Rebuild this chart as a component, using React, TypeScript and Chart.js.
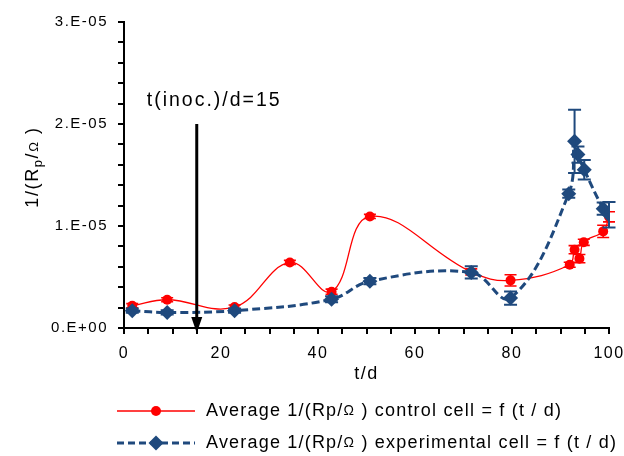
import React, { useEffect, useRef } from 'react';
import { Chart, registerables } from 'chart.js';

Chart.register(...registerables);

const FONT = '"Liberation Sans", Arial, sans-serif';
const RED = '#FF0000';
const BLUE = '#1F497D';

// control cell
const controlDays = [1.7, 8.9, 22.8, 34.2, 42.8, 50.7, 71.6, 79.7, 91.9, 92.9, 93.9, 94.8, 98.8, 100];
const controlValues = [2.19e-6, 2.77e-6, 2.06e-6, 6.43e-6, 3.56e-6, 10.94e-6, 5.5e-6, 4.67e-6, 6.2e-6, 7.68e-6, 6.8e-6, 8.4e-6, 9.47e-6, 10.9e-6];
const controlErrors = [0.2e-6, 0.2e-6, 0.2e-6, 0.2e-6, 0.25e-6, 0.2e-6, 0.3e-6, 0.55e-6, 0.25e-6, 0.4e-6, 0.4e-6, 0.3e-6, 0.6e-6, 0.5e-6];

// experimental cell
const expDays = [1.7, 8.9, 22.8, 42.8, 50.7, 71.6, 79.7, 91.7, 92.9, 93.6, 94.9, 98.8, 100];
const expValues = [1.7e-6, 1.53e-6, 1.7e-6, 2.82e-6, 4.59e-6, 5.45e-6, 2.94e-6, 13.17e-6, 18.3e-6, 17.0e-6, 15.52e-6, 11.7e-6, 11.1e-6];
const expErrors = [0.2e-6, 0.2e-6, 0.2e-6, 0.3e-6, 0.3e-6, 0.6e-6, 0.65e-6, 0.4e-6, 3.1e-6, 0.8e-6, 0.95e-6, 0.6e-6, 1.25e-6];

const xLabelledTicks = [0, 20, 40, 60, 80, 100];
const yTickLabels = ['0.E+00', '1.E-05', '2.E-05', '3.E-05'];
const yLabelStep = 1e-5;

const inoculationDay = 15;
const arrowTopValue = 2e-5;
const annotationText = 't(inoc.)/d=15';
const xTitle = 't/d';

const legendControl = ['Average 1/(Rp/', 'Ω', ' ) control cell = f (t / d)'];
const legendExp = ['Average 1/(Rp/', 'Ω', ' ) experimental cell = f (t / d)'];

const errorsByDataset = [expErrors, controlErrors];
const errColors = [BLUE, RED];

function drawDiamond(ctx: CanvasRenderingContext2D, x: number, y: number, r: number) {
  ctx.beginPath();
  ctx.moveTo(x, y - r);
  ctx.lineTo(x + r, y);
  ctx.lineTo(x, y + r);
  ctx.lineTo(x - r, y);
  ctx.closePath();
  ctx.fill();
}

function drawSegs(ctx: CanvasRenderingContext2D, segs: { t: string; size: number; dy: number }[], x: number, y: number, ls: string) {
  let cx = x;
  for (const s of segs) {
    ctx.font = `${s.size}px ${FONT}`;
    (ctx as any).letterSpacing = ls;
    ctx.fillText(s.t, cx, y + s.dy);
    cx += ctx.measureText(s.t).width;
  }
  return cx - x;
}

function measureSegs(ctx: CanvasRenderingContext2D, segs: { t: string; size: number; dy: number }[], ls: string) {
  let w = 0;
  for (const s of segs) {
    ctx.font = `${s.size}px ${FONT}`;
    (ctx as any).letterSpacing = ls;
    w += ctx.measureText(s.t).width;
  }
  return w;
}

const overlayPlugin = {
  id: 'overlay',
  beforeUpdate(chart: any) {
    chart.ctx.letterSpacing = '1.5px';
  },
  beforeDraw(chart: any) {
    chart.ctx.letterSpacing = '1.5px';
  },
  afterDatasetDraw(chart: any, args: any) {
    const ctx = chart.ctx as CanvasRenderingContext2D;
    const errs = errorsByDataset[args.index];
    const ds = chart.data.datasets[args.index];
    const xs = chart.scales.x;
    const ys = chart.scales.y;
    ctx.save();
    ctx.strokeStyle = errColors[args.index];
    ctx.lineWidth = args.index === 0 ? 2 : 1.6;
    const cap = args.index === 0 ? 6.5 : 6;
    ds.data.forEach((p: any, i: number) => {
      const x = xs.getPixelForValue(p.x);
      const y1 = ys.getPixelForValue(p.y + errs[i]);
      const y2 = ys.getPixelForValue(p.y - errs[i]);
      ctx.beginPath();
      ctx.moveTo(x, y1);
      ctx.lineTo(x, y2);
      ctx.moveTo(x - cap, y1);
      ctx.lineTo(x + cap, y1);
      ctx.moveTo(x - cap, y2);
      ctx.lineTo(x + cap, y2);
      ctx.stroke();
    });
    ctx.restore();
  },
  afterDraw(chart: any) {
    const ctx = chart.ctx as CanvasRenderingContext2D;
    const xs = chart.scales.x;
    const ys = chart.scales.y;
    const area = chart.chartArea;
    ctx.save();
    ctx.fillStyle = '#000';
    ctx.strokeStyle = '#000';

    // arrow
    const ax = xs.getPixelForValue(inoculationDay);
    const aTop = ys.getPixelForValue(arrowTopValue);
    const aBot = ys.getPixelForValue(0);
    ctx.lineWidth = 3;
    ctx.beginPath();
    ctx.moveTo(ax, aTop);
    ctx.lineTo(ax, aBot - 9);
    ctx.stroke();
    ctx.beginPath();
    ctx.moveTo(ax - 5.5, aBot - 11);
    ctx.lineTo(ax + 5.5, aBot - 11);
    ctx.lineTo(ax, aBot + 5);
    ctx.closePath();
    ctx.fill();

    // annotation
    ctx.font = `19.5px ${FONT}`;
    (ctx as any).letterSpacing = '2px';
    ctx.textAlign = 'left';
    ctx.textBaseline = 'alphabetic';
    ctx.fillText(annotationText, ax - 50, aTop - 18);

    // x title
    ctx.font = `18px ${FONT}`;
    (ctx as any).letterSpacing = '1.5px';
    ctx.textAlign = 'center';
    ctx.textBaseline = 'middle';
    ctx.fillText(xTitle, (area.left + area.right) / 2, 374.5);

    // y title (rotated, subscript p)
    ctx.textAlign = 'left';
    ctx.textBaseline = 'alphabetic';
    const ySegs = [
      { t: '1/(R', size: 18, dy: 0 },
      { t: 'p', size: 13, dy: 4 },
      { t: '/', size: 18, dy: 0 },
      { t: 'Ω', size: 13, dy: 0 },
      { t: ' )', size: 18, dy: 0 },
    ];
    const tw = measureSegs(ctx, ySegs, '1.6px');
    ctx.save();
    ctx.translate(38, 167);
    ctx.rotate(-Math.PI / 2);
    drawSegs(ctx, ySegs, -tw / 2, 0, '1.6px');
    ctx.restore();

    // legend
    const rows = [
      { y: 411, color: RED, dash: [] as number[], width: 1.5, segs: legendControl, marker: 'circle' },
      { y: 443, color: BLUE, dash: [7, 4], width: 3, segs: legendExp, marker: 'diamond' },
    ];
    ctx.textBaseline = 'middle';
    for (const r of rows) {
      ctx.strokeStyle = r.color;
      ctx.fillStyle = r.color;
      ctx.lineWidth = r.width;
      ctx.setLineDash(r.dash);
      ctx.beginPath();
      ctx.moveTo(117, r.y);
      ctx.lineTo(195, r.y);
      ctx.stroke();
      ctx.setLineDash([]);
      if (r.marker === 'circle') {
        ctx.beginPath();
        ctx.arc(156, r.y, 5, 0, Math.PI * 2);
        ctx.fill();
      } else {
        drawDiamond(ctx, 156, r.y, 7.5);
      }
      ctx.fillStyle = '#000';
      drawSegs(
        ctx,
        [
          { t: r.segs[0], size: 18, dy: 0 },
          { t: r.segs[1], size: 14, dy: 0 },
          { t: r.segs[2], size: 18, dy: 0 },
        ],
        206,
        r.y,
        '1.2px'
      );
    }
    ctx.restore();
  },
};

export default function App() {
  const ref = useRef<HTMLCanvasElement | null>(null);
  useEffect(() => {
    if (!ref.current) return;
    const chart = new Chart(ref.current, {
      type: 'line',
      data: {
        datasets: [
          {
            label: 'Average 1/(Rp/Ω ) experimental cell = f (t / d)',
            data: expDays.map((t, i) => ({ x: t, y: expValues[i] })),
            borderColor: BLUE,
            backgroundColor: BLUE,
            borderWidth: 3,
            borderDash: [8, 4],
            pointStyle: 'rectRot',
            pointRadius: 7.5,
            pointBackgroundColor: BLUE,
            pointBorderColor: BLUE,
            pointBorderWidth: 0,
            tension: 0.4,
            fill: false,
            order: 0,
          },
          {
            label: 'Average 1/(Rp/Ω ) control cell = f (t / d)',
            data: controlDays.map((t, i) => ({ x: t, y: controlValues[i] })),
            borderColor: RED,
            backgroundColor: RED,
            borderWidth: 1.3,
            pointStyle: 'circle',
            pointRadius: 5,
            pointBackgroundColor: RED,
            pointBorderColor: RED,
            pointBorderWidth: 0,
            tension: 0.4,
            fill: false,
            order: 1,
          },
        ],
      },
      options: {
        animation: false,
        responsive: false,
        maintainAspectRatio: false,
        events: [],
        layout: { padding: { top: 22, right: 15, left: 0, bottom: 0 } },
        plugins: { legend: { display: false }, tooltip: { enabled: false } },
        scales: {
          x: {
            type: 'linear',
            min: 0,
            max: 100,
            ticks: {
              stepSize: 5,
              autoSkip: false,
              maxRotation: 0,
              padding: 10,
              color: '#000',
              font: { family: FONT, size: 16 },
              callback: (v: any) => (xLabelledTicks.includes(Number(v)) ? String(v) : ''),
            },
            grid: { drawOnChartArea: false, drawTicks: true, tickLength: 6, color: '#000', lineWidth: 2 },
            border: { display: true, color: '#000', width: 2 },
            afterFit: (s: any) => {
              s.height = 128;
              s.paddingLeft = 0;
              s.paddingRight = 0;
            },
          },
          y: {
            type: 'linear',
            min: 0,
            max: 3e-5,
            ticks: {
              stepSize: 2e-6,
              autoSkip: false,
              padding: 10,
              color: '#000',
              font: { family: FONT, size: 15 },
              callback: (v: any) => {
                const idx = Math.round(Number(v) / yLabelStep);
                return Math.abs(Number(v) - idx * yLabelStep) < 1e-9 ? yTickLabels[idx] : '';
              },
            },
            grid: { drawOnChartArea: false, drawTicks: true, tickLength: 6, color: '#000', lineWidth: 2 },
            border: { display: true, color: '#000', width: 2 },
            afterFit: (s: any) => {
              s.width = 124;
              s.paddingTop = 0;
              s.paddingBottom = 0;
            },
          },
        },
      },
      plugins: [overlayPlugin as any],
    } as any);
    return () => chart.destroy();
  }, []);
  return (
    <div style={{ position: 'absolute', left: 0, top: 0, width: 624, height: 456 }}>
      <canvas ref={ref} width={624} height={456} style={{ width: 624, height: 456 }} />
    </div>
  );
}
